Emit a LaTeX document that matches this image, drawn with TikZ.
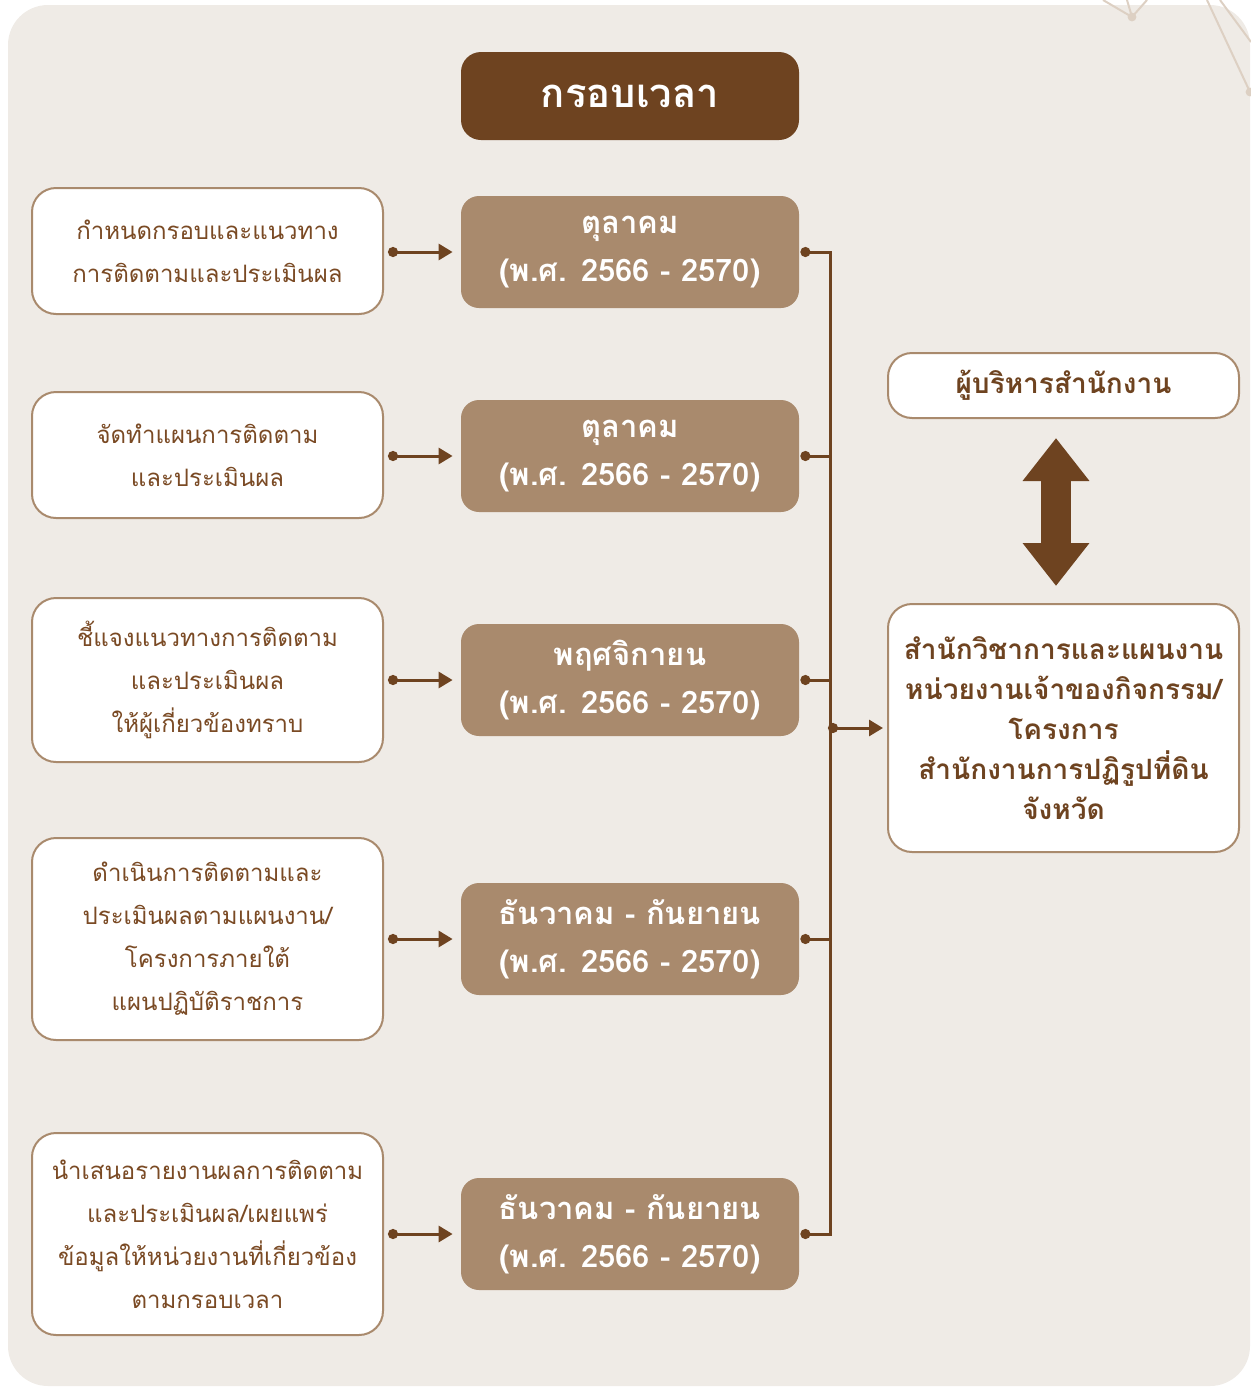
\documentclass[tikz,border=0pt]{standalone}
\usepackage{fontspec}
\setmainfont[Script=Thai]{Loma}
\usepackage{xcolor}
\usepackage{tikz}
\usetikzlibrary{positioning,arrows.meta,calc}
\definecolor{panel}{HTML}{EFEBE6}
\definecolor{ink}{HTML}{6E4320}
\definecolor{prim}{HTML}{A98A6D}
\definecolor{deco}{HTML}{DDD0C3}
\definecolor{txt}{HTML}{7A4A24}

\begin{document}
\begin{tikzpicture}[x=0.5pt,y=-0.5pt,
  task/.style={draw=prim,line width=1pt,rounded corners=12pt,fill=white,
              minimum width=175.5pt,align=center,font=\fontsize{12}{21.5}\selectfont,text=txt},
  when/.style={fill=prim,rounded corners=9pt,minimum width=169pt,minimum height=56pt,
              align=center,font=\fontsize{15.5}{24}\selectfont\bfseries,text=white},
  hd/.style={fill=ink,rounded corners=10pt,minimum width=169pt,minimum height=44pt,
              font=\fontsize{20}{24}\selectfont\bfseries,text=white},
  who/.style={draw=prim,line width=1pt,rounded corners=12pt,fill=white,
              minimum width=175.5pt,align=center,font=\fontsize{14}{20}\selectfont\bfseries,text=ink},
  ln/.style={ink,line width=1.5pt},
  arr/.style={ln,{Circle[length=5pt]}-{Triangle[length=7pt,width=8pt]}}]
  \useasboundingbox (0,0) rectangle (1251,1387);
  \fill[panel,rounded corners=20pt] (8,5) rectangle (1250,1386);
  % decoration, top right
  \draw[deco,line width=1pt] (1103,0) -- (1132,17) -- (1147,0) (1127,0) -- (1132,17);
  \draw[deco,line width=1pt] (1207,0) -- (1250,92) (1220,0) -- (1251,42);
  \fill[deco] (1132,17) circle (2.2pt) (1250,92) circle (2.2pt);

  \node[hd] (head) at (630,96) {กรอบเวลา};

  \node[task,minimum height=63pt] (t1) at (207.5,251) {กำหนดกรอบและแนวทาง\\การติดตามและประเมินผล};
  \node[task,minimum height=63pt] (t2) at (207.5,455) {จัดทำแผนการติดตาม\\และประเมินผล};
  \node[task,minimum height=82pt] (t3) at (207.5,680) {ชี้แจงแนวทางการติดตาม\\และประเมินผล\\ให้ผู้เกี่ยวข้องทราบ};
  \node[task,minimum height=101pt] (t4) at (207.5,939) {ดำเนินการติดตามและ\\ประเมินผลตามแผนงาน/\\โครงการภายใต้\\แผนปฏิบัติราชการ};
  \node[task,minimum height=101pt] (t5) at (207.5,1234) {นำเสนอรายงานผลการติดตาม\\และประเมินผล/เผยแพร่\\ข้อมูลให้หน่วยงานที่เกี่ยวข้อง\\ตามกรอบเวลา};

  \node[when] (w1) at (630,252) {ตุลาคม\\(พ.ศ. 2566 - 2570)};
  \node[when] (w2) at (630,456) {ตุลาคม\\(พ.ศ. 2566 - 2570)};
  \node[when] (w3) at (630,680) {พฤศจิกายน\\(พ.ศ. 2566 - 2570)};
  \node[when] (w4) at (630,939) {ธันวาคม - กันยายน\\(พ.ศ. 2566 - 2570)};
  \node[when] (w5) at (630,1234) {ธันวาคม - กันยายน\\(พ.ศ. 2566 - 2570)};

  \node[who,minimum height=32.5pt] (r1) at (1063.5,385.5) {ผู้บริหารสำนักงาน};
  \node[who,minimum height=124pt] (r2) at (1063.5,728) {สำนักวิชาการและแผนงาน\\หน่วยงานเจ้าของกิจกรรม/\\โครงการ\\สำนักงานการปฏิรูปที่ดิน\\จังหวัด};

  \coordinate (bus) at (830,0);
  \foreach \i in {1,...,5}{
    \draw[arr] ($(t\i.east |- w\i.west)+(2pt,0)$) -- ($(w\i.west)+(-4pt,0)$);
    \draw[ln,{Circle[length=5pt]}-] ($(w\i.east)+(0.5pt,0)$) -- (w\i.east -| bus);
  }
  \draw[ln,line cap=rect] (w1.east -| bus) -- (w5.east -| bus);
  \draw[arr] ($(bus |- r2.west)+(-1pt,0)$) -- ($(r2.west)+(-2pt,0)$);
  \draw[ink,line width=15pt,{Triangle[length=21.5pt,width=32pt]}-{Triangle[length=21.5pt,width=32pt]}]
    ($(r1.south)+(-3.75pt,-9.5pt)$) -- ($(r2.north)+(-3.75pt,8.5pt)$);
\end{tikzpicture}
\end{document}
